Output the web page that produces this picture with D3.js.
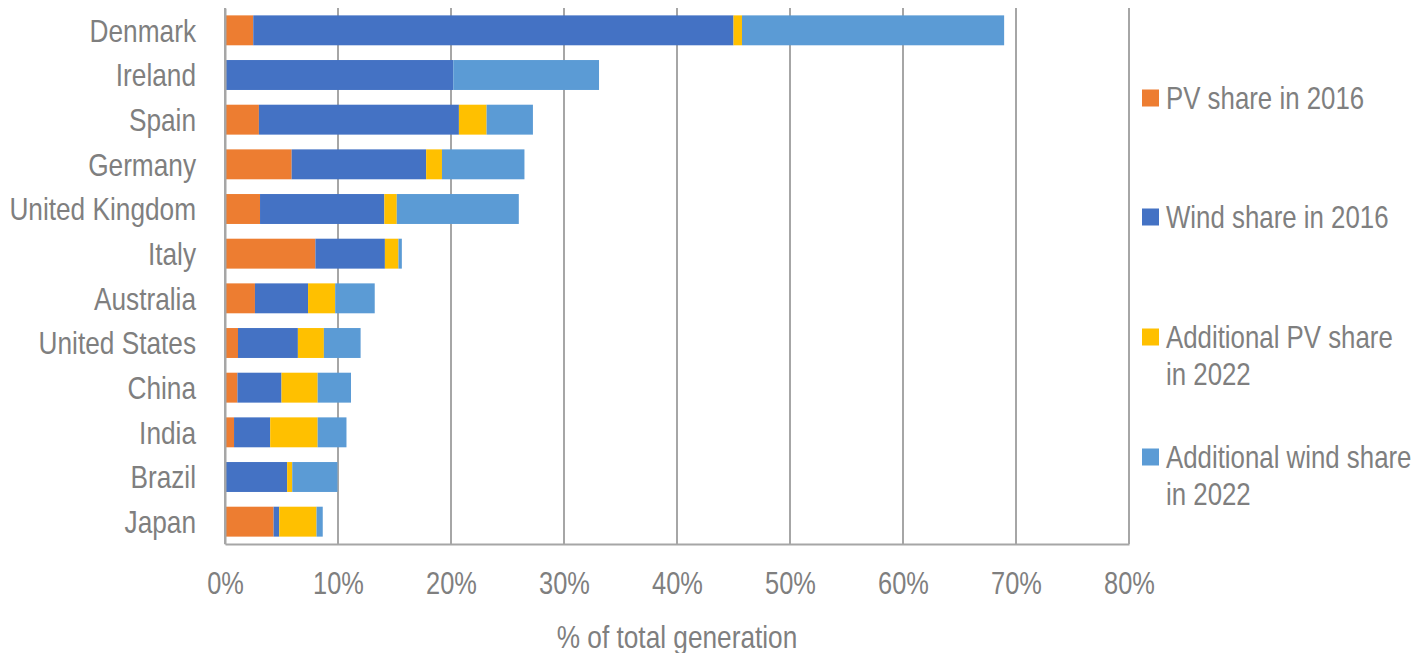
<!DOCTYPE html>
<html>
<head>
<meta charset="utf-8">
<script src="https://cdn.jsdelivr.net/npm/d3@7"></script>
<style>
    body { margin: 0; background: #fff; }
    text { font-family: "Liberation Sans", Arial, sans-serif; fill: #7f7f7f; }
</style>
</head>
<body>
<svg id="chart" width="1418" height="653"></svg>
<script>
var countries = ["Denmark", "Ireland", "Spain", "Germany", "United Kingdom", "Italy",
                 "Australia", "United States", "China", "India", "Brazil", "Japan"];

// shares in % of total generation
var pv2016 =    [2.5, 0.1, 3.0, 5.9, 3.1, 8.0, 2.65, 1.15, 1.1, 0.8, 0.0, 4.3];
var wind2016 =  [42.5, 20.1, 17.7, 11.9, 11.0, 6.15, 4.7, 5.3, 3.9, 3.2, 5.5, 0.5];
var addPv =     [0.75, 0.0, 2.45, 1.4, 1.1, 1.2, 2.4, 2.3, 3.2, 4.2, 0.45, 3.3];
var addWind =   [23.2, 12.9, 4.1, 7.3, 10.8, 0.3, 3.5, 3.25, 2.95, 2.55, 4.0, 0.55];

var seriesNames = ["PV share in 2016", "Wind share in 2016",
                   "Additional PV share in 2022", "Additional wind share in 2022"];
var seriesColors = ["#ED7D31", "#4472C4", "#FFC000", "#5B9BD5"];
var xTicks = [0, 10, 20, 30, 40, 50, 60, 70, 80];

// no narrow font installed, so squeeze the regular one
var squeeze = 0.82;

var svg = d3.select("#chart");

var x = d3.scaleLinear().domain([0, 80]).range([225, 1129]);
var y = d3.scaleBand()
        .domain(countries)
        .range([8, 544])
        .paddingInner(0.33)
        .paddingOuter(0.165);

var rows = countries.map(function(c, i) {
    return { country: c, pv: pv2016[i], wind: wind2016[i], addPv: addPv[i], addWind: addWind[i] };
});
var stack = d3.stack().keys(["pv", "wind", "addPv", "addWind"]);
var layers = stack(rows);

// gridlines
svg.append("g")
    .attr("class", "grid")
    .selectAll("line")
    .data(xTicks)
    .enter().append("line")
    .attr("x1", function(d) { return x(d); })
    .attr("x2", function(d) { return x(d); })
    .attr("y1", 8)
    .attr("y2", 544)
    .attr("stroke", "#a6a6a6")
    .attr("stroke-width", 2);

// bars
svg.append("g")
    .selectAll("g")
    .data(layers)
    .enter().append("g")
    .attr("fill", function(d, i) { return seriesColors[i]; })
    .selectAll("rect")
    .data(function(d) { return d; })
    .enter().append("rect")
    .attr("x", function(d) { return x(d[0]); })
    .attr("width", function(d) { return x(d[1]) - x(d[0]); })
    .attr("y", function(d) { return y(d.data.country); })
    .attr("height", y.bandwidth());

// axes
var xAxis = svg.append("g")
    .attr("transform", "translate(0,544)")
    .call(d3.axisBottom(x).tickValues(xTicks)
          .tickFormat(function(d) { return d + "%"; })
          .tickSize(0).tickPadding(0));
xAxis.select(".domain").attr("stroke", "#a6a6a6").attr("stroke-width", 2);
xAxis.selectAll("text")
    .attr("y", 50)
    .attr("dy", 0)
    .attr("transform", "scale(" + squeeze + ",1)")
    .style("font-size", "31px");

var yAxis = svg.append("g")
    .attr("transform", "translate(225,0)")
    .call(d3.axisLeft(y).tickSize(0).tickPadding(0));
yAxis.select(".domain").attr("stroke", "#a6a6a6").attr("stroke-width", 2);
yAxis.selectAll("text")
    .attr("x", -29 / squeeze)
    .attr("dy", "0.35em")
    .attr("transform", "scale(" + squeeze + ",1)")
    .style("font-size", "32px");
svg.selectAll(".tick text").attr("fill", "#7f7f7f");

svg.append("text")
    .attr("transform", "translate(" + x(40) + ",648) scale(" + squeeze + ",1)")
    .attr("text-anchor", "middle")
    .style("font-size", "32px")
    .text("% of total generation");

// legend
var legendLines = [["PV share in 2016"], ["Wind share in 2016"],
                   ["Additional PV share", "in 2022"], ["Additional wind share", "in 2022"]];
var legendY = [98, 217, 337, 457];
var legend = svg.append("g")
    .selectAll("g")
    .data(seriesNames)
    .enter().append("g")
    .attr("transform", function(d, i) { return "translate(1142," + legendY[i] + ")"; });
legend.append("rect")
    .attr("x", 0)
    .attr("y", -8.5)
    .attr("width", 17)
    .attr("height", 17)
    .attr("fill", function(d, i) { return seriesColors[i]; });
legend.append("text")
    .attr("transform", "translate(24,0) scale(" + squeeze + ",1)")
    .style("font-size", "31.5px")
    .selectAll("tspan")
    .data(function(d, i) { return legendLines[i]; })
    .enter().append("tspan")
    .attr("x", 0)
    .attr("y", function(d, j) { return j * 36.5; })
    .attr("dy", "0.35em")
    .text(function(d) { return d; });
</script>
</body>
</html>
